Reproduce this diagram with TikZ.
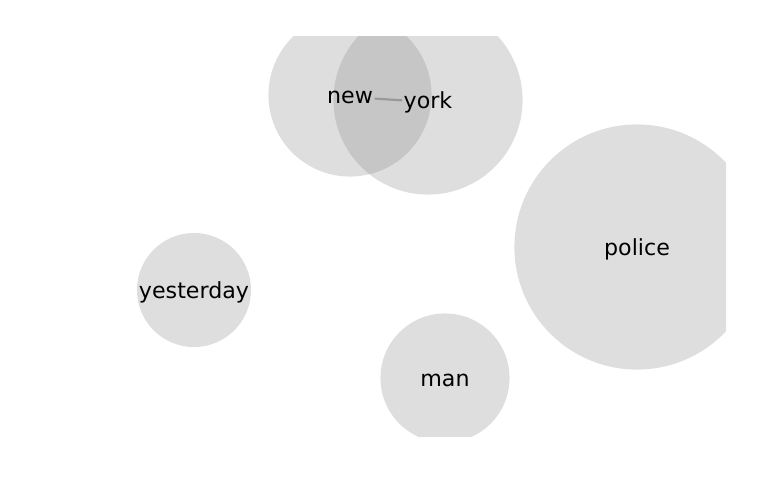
\documentclass[tikz,border=0pt]{standalone}
\usepackage{fontspec}
\setmainfont{DejaVu Sans}
\usepackage{tikz}

\begin{document}
\begin{tikzpicture}[x=0.01in,y=-0.01in]
\tikzset{
 b/.style={circle,fill=gray,fill opacity=0.26,minimum size=#1*0.02in,inner sep=0pt},
 w/.style={font=\fontsize{16}{19}\selectfont,inner sep=1pt},
 e/.style={draw=gray!80,line width=1.6pt}
}
\useasboundingbox (0,0) rectangle (768,500);
\begin{scope}
\clip (42,36) rectangle (726,436);
% bubbles
\foreach \n/\x/\y/\r in {new/350/95/81.5,york/428/100/94.5,police/637/247/122.5,yesterday/194/290/57,man/445/378/64.5}{
 \node[b=\r] (b-\n) at (\x,\y) {};
}
\end{scope}
% words
\node[w] (new) at (350,97) {new};
\node[w] (york) at (428,102) {york};
\node[w] (police) at (637,249) {police};
\node[w] (yesterday) at (194,292) {yesterday};
\node[w] (man) at (445,380) {man};
\draw[e] (new)--(york);
\end{tikzpicture}
\end{document}
